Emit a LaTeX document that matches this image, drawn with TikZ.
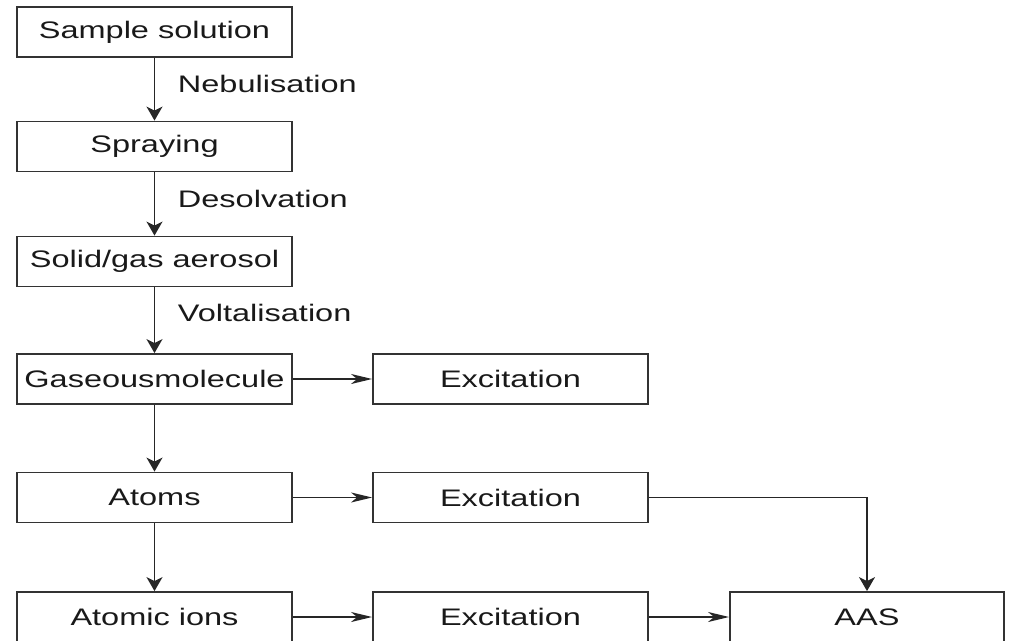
\documentclass[tikz,border=0pt]{standalone}
\usepackage{fontspec}
\setmainfont[FakeStretch=1.36]{Liberation Sans}
\usetikzlibrary{arrows.meta,positioning}
\tikzset{
  stepbox/.style={draw=black!80, line width=1.05pt, minimum width=5.5cm, minimum height=1cm,
    inner sep=0pt, text=black!90, font=\fontsize{13.6}{16}\selectfont},
  steplabel/.style={anchor=west, inner sep=0pt, xshift=0.45cm, pos=0.42, text=black!90,
    font=\fontsize{13.6}{16}\selectfont},
  flow/.style={draw=black!85, line width=1.05pt, -{Stealth[length=0.28cm, width=0.32cm, inset=0.08cm]}},
  feed/.style={draw=black!85, line width=1.05pt, -{Stealth[length=0.42cm, width=0.2cm, inset=0.12cm]}}
}

\begin{document}
\begin{tikzpicture}
    \useasboundingbox (0,0) rectangle (20.18,-12.82);
    \def\lx{3.09}
    \def\mx{10.21}
    \def\rx{17.34}
    % main column
    \node(sample) [stepbox] at (\lx,-0.64) {Sample solution};
    \node(spray) [stepbox] at (\lx,-2.93) {Spraying};
    \node(aerosol) [stepbox] at (\lx,-5.23) {Solid/gas aerosol};
    \node(gasmol) [stepbox] at (\lx,-7.58) {Gaseousmolecule};
    \node(atoms) [stepbox] at (\lx,-9.95) {Atoms};
    \node(ions) [stepbox] at (\lx,-12.34) {Atomic ions};
    % excitation column
    \node(exc1) [stepbox] at (\mx,-7.58) {Excitation};
    \node(exc2) [stepbox] at (\mx,-9.95) {Excitation};
    \node(exc3) [stepbox] at (\mx,-12.34) {Excitation};
    \node(aas) [stepbox, minimum width=5.48cm] at (\rx,-12.34) {AAS};

    \draw[flow] (sample) -- node[steplabel] {Nebulisation} (spray);
    \draw[flow] (spray) -- node[steplabel] {Desolvation} (aerosol);
    \draw[flow] (aerosol) -- node[steplabel, pos=0.39] {Voltalisation} (gasmol);
    \draw[flow] (gasmol) -- (atoms);
    \draw[flow] (atoms) -- (ions);

    \draw[feed] (gasmol) -- (exc1);
    \draw[feed] (atoms) -- (exc2);
    \draw[feed] (ions) -- (exc3);
    \draw[feed] (exc3) -- (aas);
    \draw[flow] (exc2) -| (aas);
\end{tikzpicture}
\end{document}
